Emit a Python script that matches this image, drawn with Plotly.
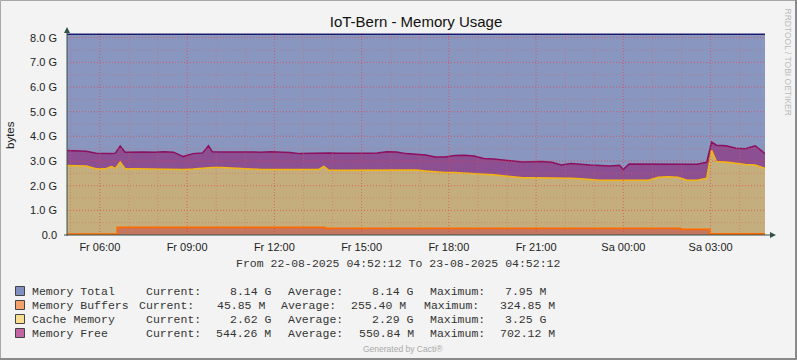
import plotly.graph_objects as go
from datetime import datetime, timedelta

# ---------------- data ----------------
range_start = "2025-08-22 04:52:12"
range_end = "2025-08-23 04:52:12"

times = [
    "2025-08-22 04:52:12", "2025-08-22 05:12", "2025-08-22 05:32", "2025-08-22 05:52",
    "2025-08-22 06:12", "2025-08-22 06:24", "2025-08-22 06:32", "2025-08-22 06:42",
    "2025-08-22 06:52", "2025-08-22 07:12", "2025-08-22 07:32", "2025-08-22 07:52",
    "2025-08-22 08:12", "2025-08-22 08:32", "2025-08-22 08:52", "2025-08-22 09:12",
    "2025-08-22 09:32", "2025-08-22 09:44", "2025-08-22 09:52", "2025-08-22 10:12",
    "2025-08-22 10:32", "2025-08-22 10:52", "2025-08-22 11:12", "2025-08-22 11:32",
    "2025-08-22 11:52", "2025-08-22 12:12", "2025-08-22 12:32", "2025-08-22 12:52",
    "2025-08-22 13:12", "2025-08-22 13:32", "2025-08-22 13:42", "2025-08-22 13:52",
    "2025-08-22 14:12", "2025-08-22 14:32", "2025-08-22 14:52", "2025-08-22 15:12",
    "2025-08-22 15:32", "2025-08-22 15:52", "2025-08-22 16:12", "2025-08-22 16:32",
    "2025-08-22 16:52", "2025-08-22 17:12", "2025-08-22 17:32", "2025-08-22 17:52",
    "2025-08-22 18:12", "2025-08-22 18:32", "2025-08-22 18:52", "2025-08-22 19:12",
    "2025-08-22 19:32", "2025-08-22 19:52", "2025-08-22 20:12", "2025-08-22 20:32",
    "2025-08-22 20:52", "2025-08-22 21:12", "2025-08-22 21:32", "2025-08-22 21:52",
    "2025-08-22 22:12", "2025-08-22 22:32", "2025-08-22 22:52", "2025-08-22 23:12",
    "2025-08-22 23:32", "2025-08-22 23:52", "2025-08-23 00:00", "2025-08-23 00:12",
    "2025-08-23 00:32", "2025-08-23 00:52", "2025-08-23 01:12", "2025-08-23 01:32",
    "2025-08-23 01:52", "2025-08-23 02:12", "2025-08-23 02:32", "2025-08-23 02:52",
    "2025-08-23 03:02", "2025-08-23 03:12", "2025-08-23 03:32", "2025-08-23 03:52",
    "2025-08-23 04:12", "2025-08-23 04:32", "2025-08-23 04:52:12",
]

cache_gb = [
    2.82, 2.80, 2.80, 2.69, 2.69, 2.78, 2.70, 2.96,
    2.69, 2.69, 2.68, 2.67, 2.68, 2.67, 2.66, 2.68,
    2.72, 2.74, 2.74, 2.74, 2.72, 2.67, 2.66, 2.66,
    2.66, 2.66, 2.66, 2.66, 2.66, 2.66, 2.78, 2.63,
    2.63, 2.63, 2.63, 2.63, 2.63, 2.63, 2.63, 2.64,
    2.64, 2.60, 2.55, 2.53, 2.53, 2.50, 2.46, 2.46,
    2.44, 2.40, 2.33, 2.32, 2.32, 2.32, 2.31, 2.31,
    2.30, 2.28, 2.24, 2.22, 2.22, 2.22, 2.22, 2.22,
    2.22, 2.22, 2.34, 2.36, 2.34, 2.22, 2.22, 2.30,
    3.43, 2.98, 2.96, 2.90, 2.86, 2.84, 2.70,
]

free_gb = [
    0.61, 0.61, 0.60, 0.63, 0.61, 0.52, 0.62, 0.65,
    0.67, 0.69, 0.69, 0.69, 0.70, 0.69, 0.52, 0.62,
    0.61, 0.88, 0.64, 0.63, 0.64, 0.70, 0.71, 0.70,
    0.72, 0.71, 0.69, 0.64, 0.66, 0.67, 0.55, 0.70,
    0.69, 0.70, 0.69, 0.69, 0.70, 0.75, 0.74, 0.66,
    0.63, 0.64, 0.61, 0.63, 0.69, 0.73, 0.74, 0.64,
    0.64, 0.63, 0.65, 0.64, 0.65, 0.66, 0.64, 0.53,
    0.60, 0.58, 0.60, 0.60, 0.58, 0.61, 0.44, 0.66,
    0.66, 0.64, 0.54, 0.52, 0.52, 0.64, 0.65, 0.65,
    0.34, 0.66, 0.66, 0.62, 0.64, 0.78, 0.60,
]

buffer_times = [
    "2025-08-22 04:52:12", "2025-08-22 06:36", "2025-08-22 13:44",
    "2025-08-23 01:57", "2025-08-23 02:58", "2025-08-23 04:52:12",
]
buffer_gb = [0.03, 0.31, 0.27, 0.23, 0.04, 0.04]

total_times = ["2025-08-22 04:52:12", "2025-08-23 04:52:12"]
total_gb = [8.14, 8.14]

tick_times = [
    "2025-08-22 06:00", "2025-08-22 09:00", "2025-08-22 12:00", "2025-08-22 15:00",
    "2025-08-22 18:00", "2025-08-22 21:00", "2025-08-23 00:00", "2025-08-23 03:00",
]
tick_labels = ["Fr 06:00", "Fr 09:00", "Fr 12:00", "Fr 15:00",
               "Fr 18:00", "Fr 21:00", "Sa 00:00", "Sa 03:00"]

y_tick_values = [0, 1, 2, 3, 4, 5, 6, 7, 8]
y_tick_labels = ["0.0", "1.0 G", "2.0 G", "3.0 G", "4.0 G", "5.0 G", "6.0 G", "7.0 G", "8.0 G"]

legend_names = ["Memory Total", "Memory Buffers", "Cache Memory", "Memory Free"]
legend_current = ["8.14 G", "45.85 M", "2.62 G", "544.26 M"]
legend_average = ["8.14 G", "255.40 M", "2.29 G", "550.84 M"]
legend_maximum = ["7.95 M", "324.85 M", "3.25 G", "702.12 M"]

# ---------------- style ----------------
W_PX, H_PX = 797, 360
L, R, T, B = 67, 765, 33, 235
PW, PH = R - L, B - T
BG = "#F3F3F3"
AXIS_COL = "#34524A"

C_TOTAL, C_TOTAL_LINE = "#8896C0", "#1C1C6E"
C_CACHE, C_CACHE_LINE = "#C4AE7D", "#F5B50F"
C_FREE, C_FREE_LINE = "#8C4F92", "#8E0F5E"
C_BUF, C_BUF_LINE = "#C47660", "#FF6A00"
SW_COLORS = ["#7F8FBF", "#F6A06E", "#FADE90", "#C264A4"]
GRID_MAJOR = "rgba(240,60,60,0.65)"
GRID_MINOR = "rgba(215,100,100,0.48)"

MONO = "Liberation Mono, DejaVu Sans Mono, monospace"
SANS = "Liberation Sans, Arial, sans-serif"


def px(xp):
    return (xp - L) / PW


def py(yp):
    return (B - yp) / PH


fig = go.Figure()

fig.add_trace(go.Scatter(x=total_times, y=total_gb, mode="lines", fill="tozeroy",
                         fillcolor=C_TOTAL, line=dict(color=C_TOTAL_LINE, width=1.5),
                         hoverinfo="skip"))
fig.add_trace(go.Scatter(x=times, y=cache_gb, mode="lines", stackgroup="mem",
                         fillcolor=C_CACHE, line=dict(color=C_CACHE_LINE, width=1.5),
                         hoverinfo="skip"))
fig.add_trace(go.Scatter(x=times, y=free_gb, mode="lines", stackgroup="mem",
                         fillcolor=C_FREE, line=dict(color=C_FREE_LINE, width=1.5),
                         hoverinfo="skip"))
fig.add_trace(go.Scatter(x=buffer_times, y=buffer_gb, mode="lines", fill="tozeroy",
                         line_shape="hv", fillcolor=C_BUF,
                         line=dict(color=C_BUF_LINE, width=1.8), hoverinfo="skip"))

shapes = []
# grid lines drawn above the areas (rrdtool style)
t0 = datetime.strptime(range_start, "%Y-%m-%d %H:%M:%S")
t1 = datetime.strptime(range_end, "%Y-%m-%d %H:%M:%S")
h = t0.replace(minute=0, second=0) + timedelta(hours=1)
while h < t1:
    major = (h.hour % 3 == 0)
    shapes.append(dict(type="line", xref="x", yref="paper", x0=h, x1=h, y0=0, y1=1,
                       layer="above",
                       line=dict(color=GRID_MAJOR if major else GRID_MINOR,
                                 width=1, dash="1px,2px")))
    h += timedelta(hours=1)
v = 0.5
while v <= 8.0:
    major = abs(v - round(v)) < 1e-9
    shapes.append(dict(type="line", xref="paper", yref="y", x0=0, x1=1, y0=v, y1=v,
                       layer="above",
                       line=dict(color=GRID_MAJOR if major else GRID_MINOR,
                                 width=1, dash="1px,2px")))
    v += 0.5

# axes with arrows
shapes.append(dict(type="line", xref="paper", yref="paper", x0=px(L), x1=px(L),
                   y0=py(B + 1), y1=py(30), layer="above", line=dict(color=AXIS_COL, width=1)))
shapes.append(dict(type="path", xref="paper", yref="paper", layer="above",
                   path=f"M {px(L-3)} {py(33)} L {px(L+3)} {py(33)} L {px(L)} {py(27)} Z",
                   fillcolor=AXIS_COL, line=dict(color=AXIS_COL, width=0)))
shapes.append(dict(type="line", xref="paper", yref="paper", x0=px(L - 3), x1=px(772),
                   y0=py(B), y1=py(B), layer="above", line=dict(color=AXIS_COL, width=1)))
shapes.append(dict(type="path", xref="paper", yref="paper", layer="above",
                   path=f"M {px(770)} {py(B-3)} L {px(770)} {py(B+3)} L {px(776)} {py(B)} Z",
                   fillcolor=AXIS_COL, line=dict(color=AXIS_COL, width=0)))

# outer frame
shapes.append(dict(type="rect", xref="paper", yref="paper", x0=px(0.5), x1=px(W_PX - 0.5),
                   y0=py(H_PX - 0.5), y1=py(0.5), layer="above",
                   line=dict(color="#A8A8A8", width=1)))
shapes.append(dict(type="line", xref="paper", yref="paper", x0=px(0), x1=px(W_PX),
                   y0=py(H_PX - 1), y1=py(H_PX - 1), layer="above",
                   line=dict(color="#8A8A8A", width=2)))
shapes.append(dict(type="line", xref="paper", yref="paper", x0=px(W_PX - 1), x1=px(W_PX - 1),
                   y0=py(H_PX), y1=py(0), layer="above",
                   line=dict(color="#8A8A8A", width=2)))

annotations = []
annotations.append(dict(text="bytes", x=px(10), y=py(135), xref="paper", yref="paper",
                        textangle=-90, showarrow=False, xanchor="center", yanchor="middle",
                        font=dict(family=SANS, size=11.5, color="#222")))
annotations.append(dict(text="RRDTOOL / TOBI OETIKER", x=px(788), y=py(6), xref="paper",
                        yref="paper", textangle=90, showarrow=False, xanchor="center",
                        yanchor="top", font=dict(family=SANS, size=8.5, color="#BBBBBB")))
annotations.append(dict(text="From 22-08-2025 04:52:12 To 23-08-2025 04:52:12",
                        x=px(398), y=py(263), xref="paper", yref="paper", showarrow=False,
                        xanchor="center", yanchor="middle",
                        font=dict(family=MONO, size=11.5, color="#333")))
annotations.append(dict(text="Generated by Cacti®", x=px(403), y=py(349), xref="paper",
                        yref="paper", showarrow=False, xanchor="center", yanchor="middle",
                        font=dict(family=SANS, size=8.5, color="#AAAAAA")))

row_y = [291, 305, 319, 333]
key_x = [[144, 286, 428], [136.7, 279, 421.7], [144, 286, 428], [144, 286, 428]]
val_x = [[228.3, 370, 503.3], [215, 349.3, 498.3], [228.3, 370, 503.3], [214.3, 356.7, 498.3]]
for i, name in enumerate(legend_names):
    yy = row_y[i]
    shapes.append(dict(type="rect", xref="paper", yref="paper", x0=px(15.5), x1=px(24.5),
                       y0=py(yy + 4.5), y1=py(yy - 4.5), layer="above",
                       fillcolor=SW_COLORS[i], line=dict(color="#444", width=1)))
    pieces = [(30, name), (key_x[i][0], "Current:"), (val_x[i][0], legend_current[i]),
              (key_x[i][1], "Average:"), (val_x[i][1], legend_average[i]),
              (key_x[i][2], "Maximum:"), (val_x[i][2], legend_maximum[i])]
    for xx, txt in pieces:
        annotations.append(dict(text=txt, x=px(xx), y=py(yy), xref="paper", yref="paper",
                                showarrow=False, xanchor="left", yanchor="middle",
                                font=dict(family=MONO, size=11.5, color="#333")))

fig.update_layout(
    width=W_PX, height=H_PX,
    margin=dict(l=L, r=W_PX - R, t=T, b=H_PX - B, pad=0),
    paper_bgcolor=BG, plot_bgcolor=BG,
    showlegend=False,
    title=dict(text="IoT-Bern - Memory Usage", x=0.5, xref="paper", xanchor="center",
               y=1 - 22 / H_PX, yanchor="middle",
               font=dict(family=SANS, size=15, color="#111")),
    xaxis=dict(type="date", range=[range_start, range_end], showgrid=False, zeroline=False,
               showline=False, tickmode="array", tickvals=tick_times, ticktext=tick_labels,
               ticks="", ticklabelstandoff=4,
               tickfont=dict(family=SANS, size=11, color="#222")),
    yaxis=dict(range=[0, PH / 24.66], showgrid=False, zeroline=False, showline=False,
               tickmode="array", tickvals=y_tick_values, ticktext=y_tick_labels,
               ticks="", ticklabelstandoff=9,
               tickfont=dict(family=SANS, size=11, color="#222")),
    shapes=shapes, annotations=annotations,
)

fig.write_html("out.html")
